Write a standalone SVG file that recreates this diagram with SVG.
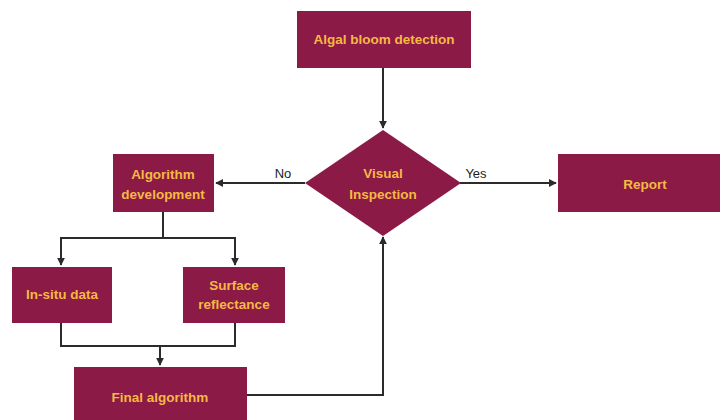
<svg xmlns="http://www.w3.org/2000/svg" width="720" height="420" viewBox="0 0 720 420">
  <style>
    .box { fill: #8c1a46; }
    .lbl { font-family: "Liberation Sans", Arial, sans-serif; font-size: 13.5px; font-weight: bold; fill: #f4b942; text-anchor: middle; }
    .edge { fill: none; stroke: #2b2b2b; stroke-width: 2; }
    .tag { font-family: "Liberation Sans", Arial, sans-serif; font-size: 13px; fill: #222; }
  </style>
  <defs>
    <marker id="arrow" viewBox="0 0 10 10" refX="9" refY="5" markerWidth="4" markerHeight="4" orient="auto">
      <path d="M0,0 L10,5 L0,10 z" fill="#2b2b2b"/>
    </marker>
  </defs>
  <rect width="720" height="420" fill="#ffffff"/>

  <g id="connectors">
    <path class="edge" d="M383,68 V128" marker-end="url(#arrow)"/>
    <path class="edge" d="M305,183 H216" marker-end="url(#arrow)"/>
    <path class="edge" d="M460,183 H556" marker-end="url(#arrow)"/>
    <path class="edge" d="M163,212 V238"/>
    <path class="edge" d="M61,265 V238 H235 V265"/>
    <path class="edge" d="M61,237 V265" marker-end="url(#arrow)"/>
    <path class="edge" d="M235,237 V265" marker-end="url(#arrow)"/>
    <path class="edge" d="M61,323 V346 H235 V323"/>
    <path class="edge" d="M160,346 V365" marker-end="url(#arrow)"/>
    <path class="edge" d="M247,395 H383 V237" marker-end="url(#arrow)"/>
    <text class="tag" x="283" y="178" text-anchor="middle">No</text>
    <text class="tag" x="476" y="178" text-anchor="middle">Yes</text>
  </g>

  <g id="algal-bloom-detection">
    <rect class="box" x="297" y="11" width="174" height="57"/>
    <text class="lbl" x="384" y="44">Algal bloom detection</text>
  </g>

  <g id="visual-inspection">
    <polygon class="box" points="383,130 461,183 383,236 305,183"/>
    <text class="lbl" x="383" y="178">Visual</text>
    <text class="lbl" x="383" y="199">Inspection</text>
  </g>

  <g id="algorithm-development">
    <rect class="box" x="113" y="154" width="101" height="58"/>
    <text class="lbl" x="163" y="179">Algorithm</text>
    <text class="lbl" x="163" y="199">development</text>
  </g>

  <g id="report">
    <rect class="box" x="558" y="154" width="162" height="58"/>
    <text class="lbl" x="645" y="189">Report</text>
  </g>

  <g id="in-situ-data">
    <rect class="box" x="12" y="267" width="100" height="56"/>
    <text class="lbl" x="62" y="299">In-situ data</text>
  </g>

  <g id="surface-reflectance">
    <rect class="box" x="183" y="267" width="102" height="56"/>
    <text class="lbl" x="234" y="290">Surface</text>
    <text class="lbl" x="234" y="309">reflectance</text>
  </g>

  <g id="final-algorithm">
    <rect class="box" x="74" y="367" width="173" height="53"/>
    <text class="lbl" x="160" y="402">Final algorithm</text>
  </g>
</svg>
